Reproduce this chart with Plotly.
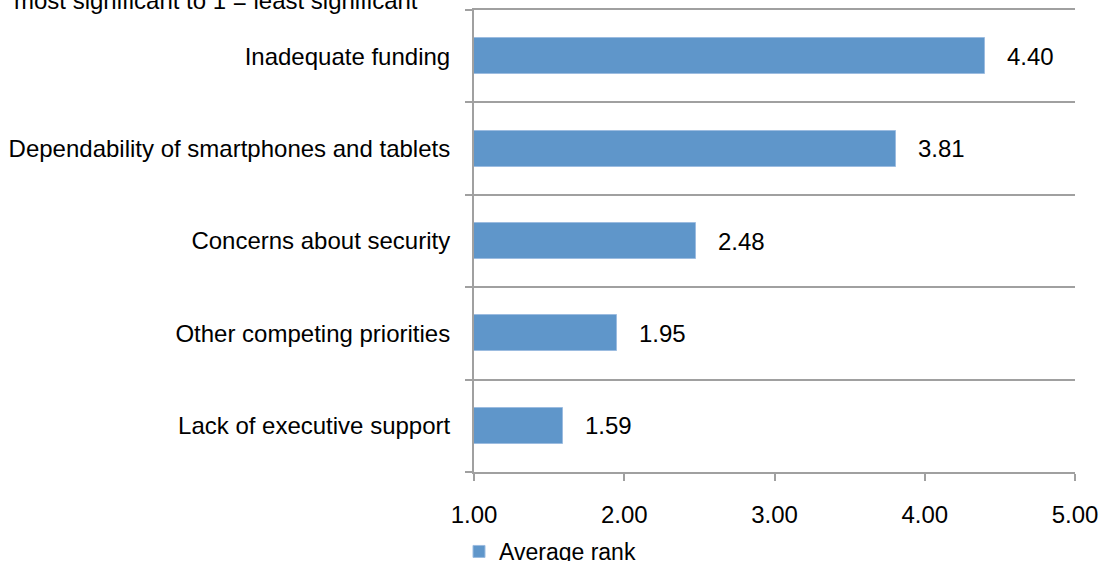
import plotly.graph_objects as go

# Survey ranking data (5 = most significant, 1 = least significant)
categories = [
    "Lack of executive support",
    "Other competing priorities",
    "Concerns about security",
    "Dependability of smartphones and tablets",
    "Inadequate funding",
]
average_rank = [1.59, 1.95, 2.48, 3.81, 4.40]
x_ticks = [1, 2, 3, 4, 5]
series_name = "Average rank"
note_text = "most significant to 1 = least significant"

FONT = "Liberation Sans, Arial, sans-serif"
GRAY = "#A0A0A0"
BAR = "#5F96CA"

W, H = 1102, 561
ML, MR, MT, MB = 474, 27, 10, 89
plot_w = W - ML - MR
plot_h = H - MT - MB

positions = list(range(len(categories)))
boundaries = [p - 0.5 for p in positions] + [positions[-1] + 0.5]

fig = go.Figure()
fig.add_trace(go.Bar(
    x=average_rank,
    y=positions,
    orientation="h",
    width=0.39,
    name=series_name,
    marker=dict(color=BAR, line=dict(color="#9CBCE0", width=1)),
    showlegend=True,
))

# Value labels placed just right of each bar end
for v, p in zip(average_rank, positions):
    fig.add_annotation(
        x=v, y=p, xref="x", yref="y",
        text=f"{v:.2f}", showarrow=False,
        xanchor="left", yanchor="middle", xshift=20,
        font=dict(family=FONT, size=24, color="#000000"),
    )

# Scale note at the top-left of the page
fig.add_annotation(
    x=(12 - ML) / plot_w, y=1.0, xref="paper", yref="paper",
    text=note_text, showarrow=False,
    xanchor="left", yanchor="middle", yshift=10,
    font=dict(family=FONT, size=24, color="#000000"),
)

fig.update_layout(
    width=W, height=H,
    margin=dict(l=ML, r=MR, t=MT, b=MB, autoexpand=False),
    paper_bgcolor="white", plot_bgcolor="white",
    font=dict(family=FONT, size=24, color="#000000"),
    bargap=0,
    showlegend=True,
    legend=dict(
        orientation="h", x=-15 / plot_w, xanchor="left",
        y=-58 / plot_h, yanchor="top",
        font=dict(family=FONT, size=23, color="#000000"),
        itemwidth=30, bgcolor="rgba(0,0,0,0)",
    ),
    xaxis=dict(
        range=[1, 5], tickmode="array", tickvals=x_ticks,
        tickformat=".2f", showgrid=False, zeroline=False,
        showline=True, mirror=True, linecolor=GRAY, linewidth=2,
        ticks="outside", ticklen=7, tickcolor=GRAY, tickwidth=2,
        ticklabelstandoff=13,
        tickfont=dict(family=FONT, size=24, color="#000000"),
    ),
    yaxis=dict(
        range=[-0.5, 4.5], tickmode="array", tickvals=positions,
        ticktext=categories, showgrid=False, zeroline=False,
        showline=True, linecolor=GRAY, linewidth=2,
        ticks="", ticklabelstandoff=17,
        tickfont=dict(family=FONT, size=24, color="#000000"),
        minor=dict(
            tickmode="array", tickvals=boundaries,
            ticks="outside", ticklen=7, tickcolor=GRAY, tickwidth=2,
            showgrid=True, gridcolor=GRAY, gridwidth=2,
        ),
    ),
)

fig.write_html("out.html")
